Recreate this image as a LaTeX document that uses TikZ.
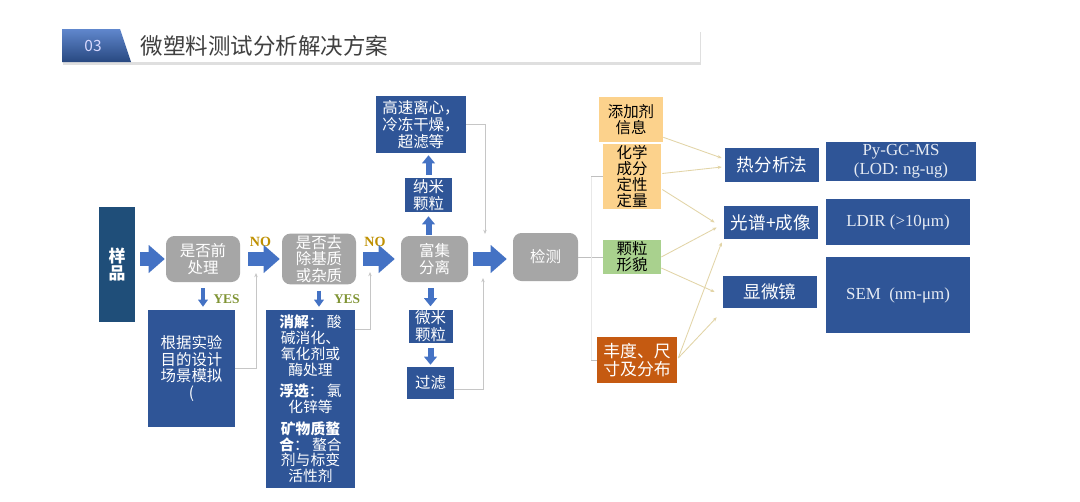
\documentclass[tikz,border=0pt]{standalone}
\usepackage{fontspec}
\setmainfont{Liberation Serif}
\newfontfamily\cjk{Noto Sans CJK SC}
\usepackage{tikz}
\usetikzlibrary{arrows.meta, positioning, calc, shadows}
\definecolor{boxblue}{RGB}{47,85,151}
\definecolor{darkblue}{RGB}{31,78,121}
\definecolor{arrowblue}{RGB}{68,114,196}
\definecolor{panelgrey}{RGB}{166,166,166}
\definecolor{nogold}{RGB}{191,144,0}
\definecolor{yesgreen}{RGB}{128,148,52}
\definecolor{lightorange}{RGB}{252,210,140}
\definecolor{lightgreen}{RGB}{169,209,142}
\definecolor{burnt}{RGB}{197,90,17}
\definecolor{linkbeige}{RGB}{226,212,166}
\definecolor{titlegrey}{RGB}{64,64,64}
\newlength\unitpx
\setlength\unitpx{0.025cm}

\begin{document}
\begin{tikzpicture}[
    x=0.025cm, y=-0.025cm,
    bluebox/.style={
      rectangle,
      fill=boxblue,
      text=white,
      align=center,
      inner sep=1pt,
      font=\fontsize{11}{12}\cjk
    },
    greybox/.style={
      rectangle,
      fill=panelgrey,
      rounded corners=6pt,
      text=white,
      align=center,
      inner sep=1pt,
      font=\fontsize{11}{12}\cjk
    },
    infobox/.style={
      rectangle,
      align=center,
      inner sep=1pt,
      font=\fontsize{11}{11.5}\cjk
    },
    methodbox/.style={
      rectangle,
      fill=boxblue,
      text=white,
      align=center,
      minimum width=94\unitpx,
      font=\fontsize{12.5}{14}\cjk
    },
    instbox/.style={
      rectangle,
      fill=boxblue,
      text=white!88!boxblue,
      align=center,
      inner sep=1pt,
      font=\fontsize{12}{13.5}\selectfont
    },
    fatarrow/.style={
      draw=arrowblue,
      line width=0.35cm,
      -{Triangle[width=0.7cm, length=0.4cm, line width=0pt]}
    },
    midarrow/.style={
      draw=arrowblue,
      line width=0.15cm,
      -{Triangle[width=0.325cm, length=0.2cm, line width=0pt]}
    },
    yesarrow/.style={
      draw=arrowblue,
      line width=0.1cm,
      -{Triangle[width=0.25cm, length=0.175cm, line width=0pt]}
    },
    loopline/.style={draw=gray!45, line width=0.5pt, -{Stealth[length=3pt, width=2.4pt]}},
    linkline/.style={draw=linkbeige, line width=0.6pt, -{Stealth[length=3pt, width=2.4pt]}},
    branch/.style={draw=gray!50, line width=0.5pt},
    nolabel/.style={font=\fontsize{10}{11}\selectfont\bfseries, text=nogold},
    yeslabel/.style={font=\fontsize{9.5}{10}\selectfont\bfseries, text=yesgreen}
  ]

    \useasboundingbox (0,0) rectangle (1080,501);
    \fill[white] (0,0) rectangle (1080,501);

    % Title banner
    \fill[white, drop shadow={shadow xshift=1pt, shadow yshift=-2pt, opacity=0.25}] (62,29) rectangle (700,62);
    \shade[top color=arrowblue!85!white, bottom color=boxblue!85!black] (62,29) -- (120,29) -- (131,62) -- (62,62) -- cycle;
    \node (tabnum) [text=blue!15!white, font=\fontsize{11}{12}\cjk] at (93,46) {03};
    \node (title) [anchor=west, text=titlegrey, font=\fontsize{16}{18}\cjk] at (136,46) {微塑料测试分析解决方案};

    % Pre-treatment
    \node (sample) [rectangle, fill=darkblue, text=white, align=center, minimum width=36\unitpx, minimum height=115\unitpx, font=\fontsize{12}{12.5}\cjk\bfseries] at (117,264.5) {样\\品};
    \node (pre) [greybox, minimum width=74\unitpx, minimum height=46\unitpx] at (203,259) {是否前\\处理};
    \node (scene) [bluebox, minimum width=87\unitpx, minimum height=117\unitpx] at (191.5,368.5) {根据实验\\目的设计\\场景模拟\\(};
    \node (matrix) [greybox, minimum width=74\unitpx, minimum height=46\unitpx] at (319,259) {是否去\\除基质\\或杂质};
    \node (digest) [bluebox, minimum width=89\unitpx, minimum height=178\unitpx, font=\fontsize{10.5}{11.3}\cjk] at (310.5,399) {\textbf{消解}： 酸\\碱消化、\\氧化剂或\\酶处理\\[4pt]\textbf{浮选}： 氯\\化锌等\\[4pt]\textbf{矿物质螯}\\\textbf{合}： 螯合\\剂与标变\\活性剂};

    % Enrichment column
    \node (enrich) [greybox, minimum width=67\unitpx, minimum height=46\unitpx] at (434.5,259) {富集\\分离};
    \node (nano) [bluebox, minimum width=47\unitpx, minimum height=34\unitpx] at (428.5,195) {纳米\\颗粒};
    \node (nanoproc) [bluebox, minimum width=90\unitpx, minimum height=57\unitpx] at (421,124.5) {高速离心，\\冷冻干燥，\\超滤等};
    \node (micro) [bluebox, minimum width=44\unitpx, minimum height=33\unitpx] at (430.5,326.5) {微米\\颗粒};
    \node (filter) [bluebox, minimum width=47\unitpx, minimum height=32\unitpx] at (430.5,383) {过滤};

    % Detection
    \node (detect) [greybox, minimum width=65\unitpx, minimum height=48\unitpx] at (545.5,257) {检测};
    \node (additive) [infobox, fill=lightorange, minimum width=64\unitpx, minimum height=45\unitpx] at (631,119.5) {添加剂\\信息};
    \node (chem) [infobox, fill=lightorange, minimum width=58\unitpx, minimum height=59\unitpx] at (632,176.5) {化学\\成分\\定性\\定量};
    \node (morph) [infobox, fill=lightgreen, minimum width=58\unitpx, minimum height=32\unitpx] at (632,257) {颗粒\\形貌};
    \node (abund) [infobox, fill=burnt, text=white, minimum width=80\unitpx, minimum height=46\unitpx, font=\fontsize{12}{13}\cjk] at (637,360) {丰度、尺\\寸及分布};

    % Methods and instruments
    \node (thermal) [methodbox, minimum height=34\unitpx] at (772,165) {热分析法};
    \node (spectro) [methodbox, minimum height=33\unitpx] at (771,222.5) {光谱+成像};
    \node (microscope) [methodbox, minimum height=32\unitpx] at (770,292) {显微镜};
    \node (pygc) [instbox, minimum width=150\unitpx, minimum height=39\unitpx] at (901,161.5) {Py-GC-MS\\(LOD: ng-ug)};
    \node (ldir) [instbox, minimum width=144\unitpx, minimum height=46\unitpx] at (898,222) {LDIR (>10μm)};
    \node (sem) [instbox, minimum width=144\unitpx, minimum height=76\unitpx] at (898,295) {SEM~ (nm-μm)};

    % Decision labels
    \node (noA) [nolabel] at (260.5,242) {NO};
    \node (noB) [nolabel] at (375,242) {NO};
    \node (yesA) [yeslabel] at (226.5,299) {YES};
    \node (yesB) [yeslabel] at (347,299) {YES};

    % Main flow
    \draw [fatarrow, shorten <=0.125cm, shorten >=0.025cm] (sample.east |- pre.west) -- (pre.west);
    \draw [fatarrow, shorten <=0.2cm, shorten >=0.05cm] (pre) -- (matrix);
    \draw [fatarrow, shorten <=0.175cm, shorten >=0.15cm] (matrix) -- (enrich);
    \draw [fatarrow, shorten <=0.125cm, shorten >=0.15cm] (enrich.east) -- (enrich.east -| detect.west);

    % YES branches
    \draw [yesarrow, shorten <=0.15cm, shorten >=0.075cm] (pre.south) -- (pre.south |- scene.north);
    \draw [yesarrow, shorten <=0.15cm, shorten >=0.075cm] (matrix.south) -- (matrix.south |- digest.north);

    % Enrichment column
    \draw [midarrow, shorten <=0.025cm, shorten >=0.1cm] (nano.south |- enrich.north) -- (nano.south);
    \draw [midarrow, shorten <=0.075cm, shorten >=0.05cm] (nano.north) -- (nano.north |- nanoproc.south);
    \draw [midarrow, shorten <=0.15cm, shorten >=0.075cm] (micro.north |- enrich.south) -- (micro.north);
    \draw [midarrow, shorten <=0.1cm, shorten >=0.05cm] (micro.south) -- (micro.south |- filter.north);

    % Return lines
    \coordinate (mergeA) at (256,273);
    \coordinate (mergeB) at (370,272);
    \coordinate (mergeC) at (485,234);
    \coordinate (mergeD) at (483,278);
    \draw [loopline] (scene.east) -| (mergeA);
    \draw [loopline] ([yshift=-0.5cm]digest.north east) -| (mergeB);
    \draw [loopline] (nanoproc.east) -| (mergeC);
    \draw [loopline] ([yshift=-0.15cm]filter.east) -| (mergeD);

    % Detection fork
    \coordinate (fork) at (591,257);
    \draw [branch] (detect.east) -- (morph.west);
    \draw [branch, draw=gray!18] (fork |- chem.west) -- (fork |- abund.west);
    \draw [branch] (fork |- chem.west) -- (chem.west);
    \draw [branch] (fork |- abund.west) -- (abund.west);

    % Information to methods
    \draw [linkline] ([yshift=0.125cm]additive.south east) -- ([shift={(-3,-7)}]thermal.west);
    \draw [linkline] ([shift={(1,-3)}]chem.east) -- ([shift={(-3,2)}]thermal.west);
    \draw [linkline] ([shift={(1,13)}]chem.east) -- ([shift={(-9,0)}]spectro.west);
    \draw [linkline] (morph.east) -- ([shift={(-7,5)}]spectro.west);
    \draw [linkline] ([shift={(0,11)}]morph.east) -- ([shift={(-8,0)}]microscope.west);
    \draw [linkline] ([shift={(1,-2)}]abund.east) -- ([shift={(-2,3)}]spectro.south west);
    \draw [linkline] ([shift={(1,-2)}]abund.east) -- ([shift={(-6,9)}]microscope.south west);

  \end{tikzpicture}
\end{document}
